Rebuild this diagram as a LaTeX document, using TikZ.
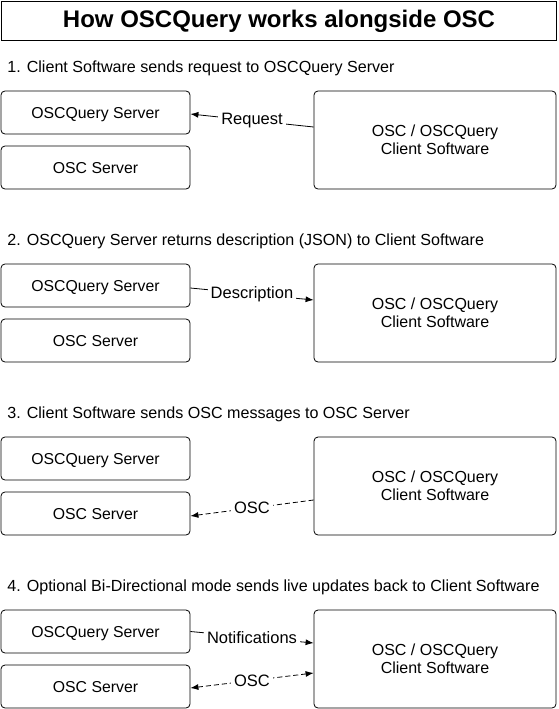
\documentclass[tikz,border=0pt]{standalone}
\usepackage{fontspec}
\setmainfont{Liberation Sans}
\usetikzlibrary{arrows.meta, positioning}

\begin{document}
\begin{tikzpicture}[x=1pt, y=-1pt, line width=0.8pt,
        titlebox/.style={draw, minimum width=555pt, minimum height=39pt, inner sep=0pt, font=\fontsize{24}{28}\selectfont\bfseries},
        heading/.style={anchor=base west, inner sep=0pt, font=\fontsize{16.1}{19}\selectfont},
        srvbox/.style={draw, rounded corners=4pt, minimum width=189pt, minimum height=43pt, inner sep=0pt, text height=12pt, text depth=0pt, font=\fontsize{15.8}{18}\selectfont},
        clientbox/.style={draw, rounded corners=4pt, minimum width=242pt, minimum height=98pt, inner sep=0pt, align=center, font=\fontsize{16}{18.5}\selectfont},
        msg/.style={-{Latex[length=8pt, width=6pt]}},
        osc/.style={dash pattern=on 5pt off 3pt},
        lbl/.style={fill=white, inner sep=3pt, font=\fontsize{16.5}{19}\selectfont}]
        \useasboundingbox (0,0) rectangle (558,709);

        \node[titlebox] (title) at (279,21) {How OSCQuery works alongside OSC};

        % 1. request
        \node[heading] (h1) at (7,72.5) {1. Client Software sends request to OSCQuery Server};
        \node[srvbox] (q1) at (95.5,112.5) {OSCQuery Server};
        \node[srvbox] (o1) at (95.5,167.5) {OSC Server};
        \node[clientbox] (c1) at (435,140) {OSC / OSCQuery\\Client Software};
        \draw[msg] ([yshift=13pt]c1.west) -- node[lbl] {Request} ([yshift=-1.5pt]q1.east);

        % 2. description
        \node[heading] (h2) at (7,245.5) {2. OSCQuery Server returns description (JSON) to Client Software};
        \node[srvbox] (q2) at (95.5,285.5) {OSCQuery Server};
        \node[srvbox] (o2) at (95.5,340.5) {OSC Server};
        \node[clientbox] (c2) at (435,313) {OSC / OSCQuery\\Client Software};
        \draw[msg] ([yshift=-2.5pt]q2.east) -- node[lbl] {Description} ([yshift=13pt]c2.west);

        % 3. osc messages
        \node[heading] (h3) at (7,418.5) {3. Client Software sends OSC messages to OSC Server};
        \node[srvbox] (q3) at (95.5,458.5) {OSCQuery Server};
        \node[srvbox] (o3) at (95.5,513.5) {OSC Server};
        \node[clientbox] (c3) at (435,486) {OSC / OSCQuery\\Client Software};
        \draw[msg, osc] ([yshift=-14pt]c3.west) -- node[lbl] {OSC} ([yshift=-2.5pt]o3.east);

        % 4. bi-directional
        \node[heading] (h4) at (7,591.5) {4. Optional Bi-Directional mode sends live updates back to Client Software};
        \node[srvbox] (q4) at (95.5,631.5) {OSCQuery Server};
        \node[srvbox] (o4) at (95.5,686.5) {OSC Server};
        \node[clientbox] (c4) at (435,659) {OSC / OSCQuery\\Client Software};
        \draw[msg] (q4.east) -- node[lbl] {Notifications} ([yshift=16pt]c4.west);
        \draw[osc, {Latex[length=8pt, width=6pt]}-{Latex[length=8pt, width=6pt]}] ([yshift=-1.5pt]o4.east) -- node[lbl] {OSC} ([yshift=-14pt]c4.west);
    \end{tikzpicture}
\end{document}
